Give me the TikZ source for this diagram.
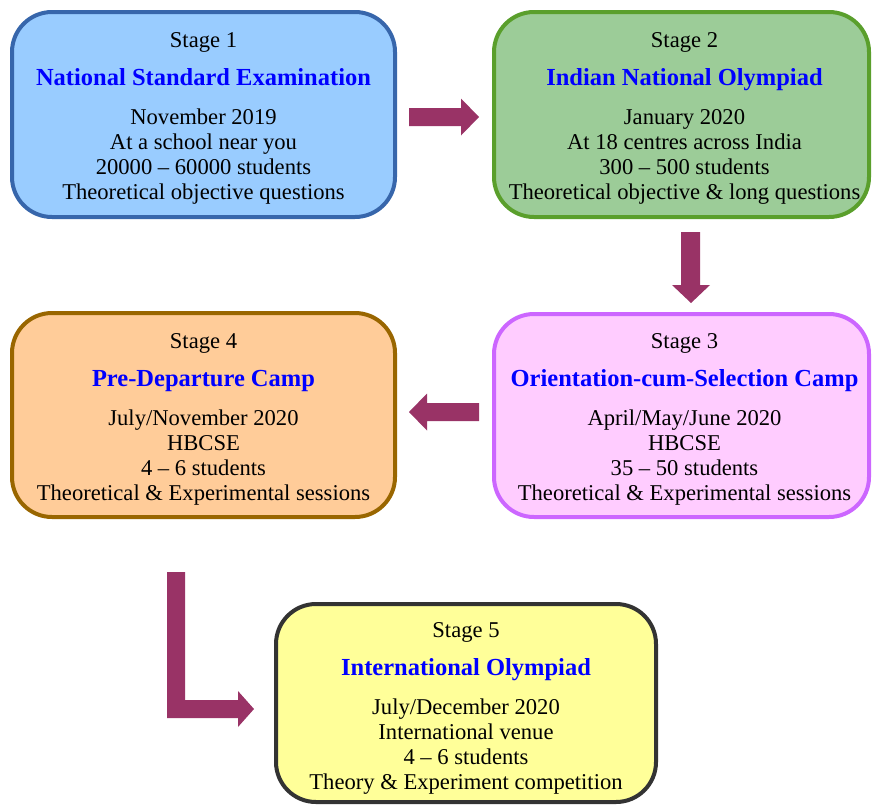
\documentclass[tikz,border=0pt]{standalone}
\usepackage{fontspec}
\setmainfont{Liberation Serif}
\definecolor{arrowc}{HTML}{993366}
\definecolor{titleblue}{HTML}{0000FF}
\definecolor{bluefill}{HTML}{99CCFF}
\definecolor{blueline}{HTML}{3766AB}
\definecolor{greenfill}{HTML}{9CCC98}
\definecolor{greenline}{HTML}{5A9F2C}
\definecolor{pinkfill}{HTML}{FFCCFF}
\definecolor{pinkline}{HTML}{CC66FF}
\definecolor{orangefill}{HTML}{FFCC99}
\definecolor{orangeline}{HTML}{996600}
\definecolor{yellowfill}{HTML}{FFFF99}
\definecolor{grayline}{HTML}{333333}
\newcommand{\sttitle}[1]{{\fontsize{24.5}{25}\selectfont\bfseries\color{titleblue}#1}}
\tikzset{
  stagebox/.style={draw, line width=4pt, rounded corners=40pt, inner sep=0pt},
  stagetext/.style={inner sep=0pt, align=center, font=\fontsize{22.6}{25}\selectfont},
}
\begin{document}
\begin{tikzpicture}[x=1pt,y=-1pt]
\useasboundingbox (0,0) rectangle (872,806);
\node[stagebox, fill=bluefill, draw=blueline, minimum width=383pt, minimum height=205pt] (b1) at (203.5,114.5) {};
\node[stagetext] (t1) at ([yshift=-3.5pt]b1.center)
 {Stage 1\\[13pt]\sttitle{National Standard Examination}\\[14pt]November 2019\\At a school near you\\20000 -- 60000 students\\Theoretical objective questions};
\node[stagebox, fill=greenfill, draw=greenline, minimum width=375pt, minimum height=205pt] (b2) at (681.5,114.5) {};
\node[stagetext] (t2) at ([xshift=3pt,yshift=-3.5pt]b2.center)
 {Stage 2\\[13pt]\sttitle{Indian National Olympiad}\\[14pt]January 2020\\At 18 centres across India\\300 -- 500 students\\Theoretical objective \& long questions};
\node[stagebox, fill=pinkfill, draw=pinkline, minimum width=375pt, minimum height=203pt] (b3) at (681.5,415.5) {};
\node[stagetext] (t3) at ([xshift=3pt,yshift=-3.5pt]b3.center)
 {Stage 3\\[13pt]\sttitle{Orientation-cum-Selection Camp}\\[14pt]April/May/June 2020\\HBCSE\\35 -- 50 students\\Theoretical \& Experimental sessions};
\node[stagebox, fill=orangefill, draw=orangeline, minimum width=383pt, minimum height=204pt] (b4) at (203.5,415) {};
\node[stagetext] (t4) at ([yshift=-4pt]b4.center)
 {Stage 4\\[13pt]\sttitle{Pre-Departure Camp}\\[14pt]July/November 2020\\HBCSE\\4 -- 6 students\\Theoretical \& Experimental sessions};
\node[stagebox, fill=yellowfill, draw=grayline, minimum width=380pt, minimum height=198pt] (b5) at (466,703) {};
\node[stagetext] (t5) at ([yshift=-5pt]b5.center)
 {Stage 5\\[13pt]\sttitle{International Olympiad}\\[14pt]July/December 2020\\International venue\\4 -- 6 students\\Theory \& Experiment competition};
% block arrows
\fill[arrowc] (409,108) -- (461,108) -- (461,98.5) -- (479,117) -- (461,135.5) -- (461,126) -- (409,126) -- cycle;
\fill[arrowc] (681,232) -- (700,232) -- (700,285) -- (710,285) -- (691,303) -- (672,285) -- (681,285) -- cycle;
\fill[arrowc] (479,403) -- (427,403) -- (427,393.5) -- (409,412) -- (427,430.5) -- (427,421) -- (479,421) -- cycle;
\fill[arrowc] (167,572) -- (185,572) -- (185,700) -- (238,700) -- (238,691) -- (254,709)
  -- (238,727) -- (238,718) -- (167,718) -- cycle;
\end{tikzpicture}
\end{document}
